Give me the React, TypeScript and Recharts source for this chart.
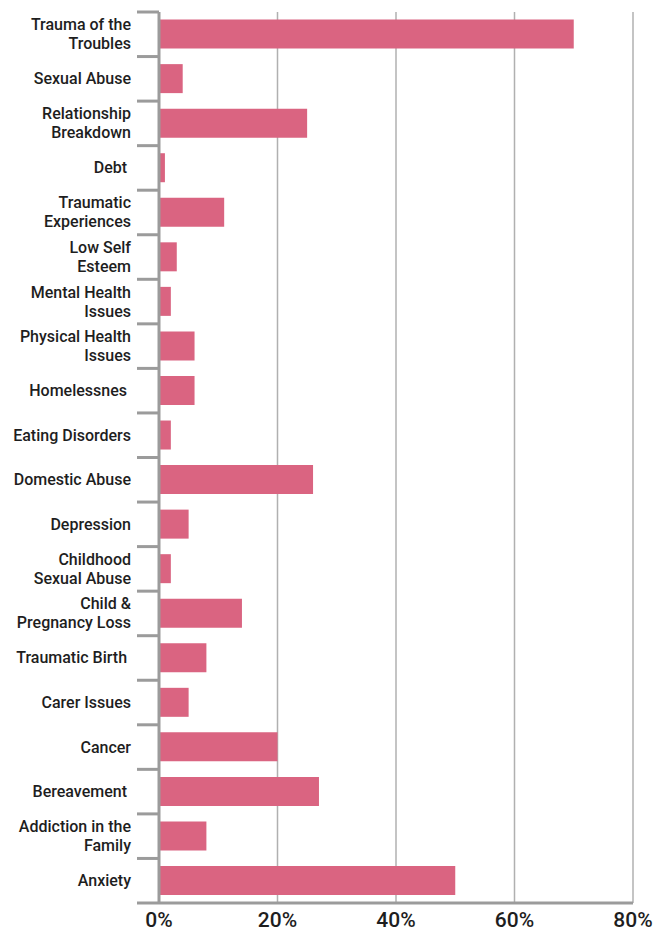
import { BarChart, Bar, XAxis, YAxis, CartesianGrid } from "recharts"

const categories = [
  "Trauma of the\nTroubles",
  "Sexual Abuse",
  "Relationship\nBreakdown",
  "Debt ",
  "Traumatic\nExperiences",
  "Low Self\nEsteem",
  "Mental Health\nIssues",
  "Physical Health\nIssues",
  "Homelessnes ",
  "Eating Disorders",
  "Domestic Abuse",
  "Depression",
  "Childhood\nSexual Abuse",
  "Child &\nPregnancy Loss",
  "Traumatic Birth ",
  "Carer Issues",
  "Cancer",
  "Bereavement ",
  "Addiction in the\nFamily",
  "Anxiety",
]

const percentages = [70, 4, 25, 1, 11, 3, 2, 6, 6, 2, 26, 5, 2, 14, 8, 5, 20, 27, 8, 50]

const xTicks = [0, 20, 40, 60, 80]

const data = categories.map((name, i) => ({ name, value: percentages[i] }))

const W = 669
const H = 931
const TOP = 12
const XAXIS_H = 28
const AXIS_GRAY = "#9b9b9b"
const BAR_PINK = "#da6481"
const FONT = "Roboto, 'DejaVu Sans', sans-serif"

const plotHeight = H - TOP - XAXIS_H
const band = plotHeight / categories.length

function CategoryTick(props: any) {
  const { x, y, payload, index } = props
  const lines = String(payload.value).split("\n")
  const lineH = 19
  const start = -((lines.length - 1) * lineH) / 2
  const last = index === categories.length - 1
  return (
    <g>
      <line x1={x - 22} x2={x} y1={y - band / 2} y2={y - band / 2} stroke={AXIS_GRAY} strokeWidth={3} />
      {last && (
        <line x1={x - 22} x2={x} y1={y + band / 2} y2={y + band / 2} stroke={AXIS_GRAY} strokeWidth={3} />
      )}
      <text x={x - 28} y={y} textAnchor="end" fontSize={16} fontWeight={500} fill="#1e1e1e" fontFamily={FONT}>
        {lines.map((l, i) => (
          <tspan key={i} x={x - 28} dy={i === 0 ? start + 5.5 : lineH} style={{ whiteSpace: "pre" }}>
            {l}
          </tspan>
        ))}
      </text>
    </g>
  )
}

export default function App() {
  return (
    <div style={{ position: "absolute", left: 0, top: 0, width: W, height: H, background: "#fff" }}>
      <BarChart
        width={W}
        height={H}
        data={data}
        layout="vertical"
        margin={{ top: TOP, right: 36, bottom: 0, left: 0 }}
        barCategoryGap="17%"
      >
        <CartesianGrid horizontal={false} stroke="#b0b0b0" strokeWidth={1.5} />
        <XAxis
          type="number"
          domain={[0, 80]}
          ticks={xTicks}
          tickFormatter={(v) => `${v}%`}
          height={XAXIS_H}
          axisLine={{ stroke: AXIS_GRAY, strokeWidth: 3 }}
          tickLine={false}
          tickSize={0}
          tickMargin={9}
          tick={{ fontSize: 21, fontWeight: 500, fill: "#1e1e1e", fontFamily: FONT }}
          interval={0}
        />
        <YAxis
          type="category"
          dataKey="name"
          width={159}
          axisLine={{ stroke: AXIS_GRAY, strokeWidth: 3 }}
          tickLine={false}
          tickSize={0}
          tickMargin={0}
          tick={<CategoryTick />}
          interval={0}
        />
        <Bar dataKey="value" fill={BAR_PINK} isAnimationActive={false} />
      </BarChart>
    </div>
  )
}
